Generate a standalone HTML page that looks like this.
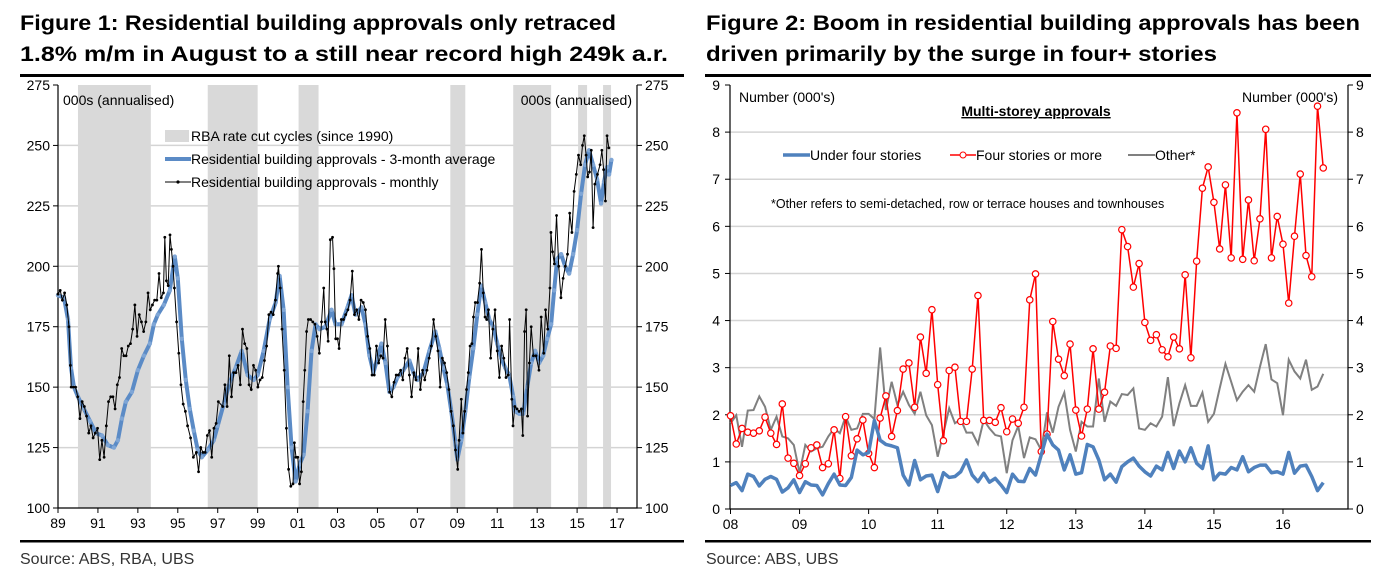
<!DOCTYPE html>
<html><head><meta charset="utf-8"><style>
html,body{margin:0;padding:0;background:#fff;}
svg{display:block;font-family:"Liberation Sans",Arial,sans-serif;}
</style></head><body>
<svg id="c" width="1383" height="582" viewBox="0 0 1383 582" xmlns="http://www.w3.org/2000/svg">
<g font-weight="bold" font-size="21" fill="#000">
<text x="20" y="30" textLength="596" lengthAdjust="spacingAndGlyphs">Figure 1: Residential building approvals only retraced</text>
<text x="20" y="61" textLength="648" lengthAdjust="spacingAndGlyphs">1.8% m/m in August to a still near record high 249k a.r.</text>
</g>
<g font-weight="bold" font-size="21" fill="#000">
<text x="706" y="30" textLength="654" lengthAdjust="spacingAndGlyphs">Figure 2: Boom in residential building approvals has been</text>
<text x="706" y="61" textLength="511" lengthAdjust="spacingAndGlyphs">driven primarily by the surge in four+ stories</text>
</g>
<rect x="20" y="74" width="664" height="3" fill="#000"/>
<rect x="705" y="74" width="666" height="3" fill="#000"/>
<rect x="20" y="540" width="664" height="2.5" fill="#000"/>
<rect x="705" y="540" width="666" height="2.5" fill="#000"/>
<text x="20" y="564" font-size="16" fill="#333">Source: ABS, RBA, UBS</text>
<text x="706" y="564" font-size="16" fill="#333">Source: ABS, UBS</text>
<g id="f1"></g>
<g id="f2"></g>
</svg>
<script>
// ---------- Figure 1 data ----------
const f1TickLabels = ["89","91","93","95","97","99","01","03","05","07","09","11","13","15","17"];
const f1TickYears = [1989,1991,1993,1995,1997,1999,2001,2003,2005,2007,2009,2011,2013,2015,2017];
const f1YTicks = [100,125,150,175,200,225,250,275];
const f1CutStart = [1990.0,1996.5,2001.05,2008.65,2011.8,2015.05,2016.3];
const f1CutEnd = [1993.65,1999.0,2002.05,2009.4,2013.7,2015.5,2016.7];
const f1MonthlyYears = [1989.00,1989.11,1989.22,1989.33,1989.44,1989.55,1989.62,1989.66,1989.77,1989.88,1989.99,1990.10,1990.21,1990.32,1990.43,1990.54,1990.65,1990.76,1990.87,1990.98,1991.09,1991.20,1991.31,1991.42,1991.53,1991.64,1991.75,1991.86,1991.97,1992.08,1992.19,1992.30,1992.41,1992.52,1992.63,1992.74,1992.85,1992.96,1993.07,1993.18,1993.29,1993.40,1993.51,1993.62,1993.73,1993.84,1993.95,1994.06,1994.17,1994.28,1994.35,1994.43,1994.52,1994.61,1994.68,1994.76,1994.83,1994.94,1995.05,1995.16,1995.27,1995.38,1995.49,1995.64,1995.78,1995.93,1996.04,1996.15,1996.26,1996.37,1996.48,1996.59,1996.70,1996.81,1996.92,1997.03,1997.25,1997.36,1997.47,1997.58,1997.69,1997.80,1997.91,1998.02,1998.13,1998.24,1998.35,1998.46,1998.57,1998.68,1998.79,1998.90,1999.01,1999.12,1999.23,1999.34,1999.45,1999.56,1999.67,1999.78,1999.89,2000.00,2000.04,2000.13,2000.22,2000.33,2000.44,2000.55,2000.66,2000.77,2000.84,2000.92,2001.01,2001.10,2001.19,2001.28,2001.36,2001.45,2001.54,2001.65,2001.76,2001.87,2001.98,2002.09,2002.20,2002.31,2002.38,2002.47,2002.53,2002.64,2002.75,2002.82,2002.91,2003.00,2003.08,2003.19,2003.30,2003.41,2003.52,2003.63,2003.74,2003.85,2003.96,2004.07,2004.18,2004.29,2004.40,2004.51,2004.62,2004.73,2004.84,2004.95,2005.06,2005.17,2005.28,2005.39,2005.50,2005.61,2005.72,2005.83,2005.94,2006.05,2006.16,2006.27,2006.38,2006.49,2006.60,2006.71,2006.82,2006.93,2007.04,2007.15,2007.26,2007.37,2007.48,2007.59,2007.70,2007.81,2007.92,2008.03,2008.14,2008.25,2008.36,2008.47,2008.58,2008.69,2008.80,2008.91,2009.02,2009.09,2009.20,2009.28,2009.37,2009.46,2009.55,2009.64,2009.73,2009.81,2009.90,2010.01,2010.12,2010.21,2010.30,2010.39,2010.47,2010.56,2010.67,2010.78,2010.89,2011.00,2011.11,2011.22,2011.33,2011.44,2011.55,2011.62,2011.73,2011.79,2011.88,2011.99,2012.10,2012.21,2012.28,2012.37,2012.45,2012.52,2012.61,2012.70,2012.81,2012.94,2013.09,2013.20,2013.33,2013.42,2013.53,2013.64,2013.69,2013.77,2013.86,2013.97,2014.08,2014.19,2014.30,2014.41,2014.52,2014.63,2014.74,2014.85,2014.96,2015.07,2015.18,2015.27,2015.36,2015.45,2015.53,2015.62,2015.71,2015.80,2015.89,2016.02,2016.15,2016.24,2016.33,2016.42,2016.50,2016.59];
const f1Monthly = [188.5,190,186,189,184,175,159,150,150,150,146,137,144,142,138,131,134,129,131,133,120,128,121,134,144,146,146,141,151,154,166,163,163,167,168,174,184,171,180,177,173,177,189,182,184,186,186,197,187,189,212,194,192,213,207,200,191,177,164,151,143,140,134,129,121,123,115,125,123,123,130,132,121,133,135,144,142,151,142,163,146,156,156,159,151,174,168,166,151,149,159,157,150,153,154,161,167,180,181,180,186,197,200,191,174,157,133,116,109,110,127,121,121,110,115,144,157,173,178,178,177,176,171,164,177,191,177,174,169,211,212,199,170,170,166,178,178,180,182,186,198,180,182,178,186,185,182,171,166,155,155,167,160,163,162,178,167,148,146,152,155,155,157,153,162,166,155,146,156,153,166,149,157,153,157,162,167,178,171,165,150,162,160,156,149,140,134,124,116,128,145,131,140,149,156,167,168,179,185,185,193,207,189,179,178,182,162,174,182,165,154,167,162,154,155,178,145,134,142,141,140,141,130,173,182,138,160,175,163,163,157,179,164,182,174,191,214,206,201,221,200,187,195,200,205,222,214,231,238,246,242,250,254,246,237,239,248,216,234,238,242,248,240,227,254,249];
const f1AvgYears = [1989.0,1989.3,1989.5,1989.65,1989.8,1990.0,1990.3,1990.6,1990.9,1991.2,1991.5,1991.8,1992.0,1992.2,1992.4,1992.7,1993.0,1993.3,1993.6,1993.8,1994.0,1994.3,1994.6,1994.85,1995.0,1995.2,1995.4,1995.6,1995.8,1996.0,1996.2,1996.5,1996.8,1997.0,1997.3,1997.6,1997.9,1998.2,1998.5,1998.8,1999.0,1999.3,1999.6,1999.9,2000.1,2000.3,2000.5,2000.7,2000.9,2001.1,2001.3,2001.5,2001.7,2001.9,2002.1,2002.4,2002.7,2002.9,2003.2,2003.5,2003.7,2003.9,2004.2,2004.4,2004.6,2004.8,2005.0,2005.2,2005.4,2005.6,2005.8,2006.0,2006.3,2006.6,2006.8,2007.0,2007.3,2007.6,2007.9,2008.1,2008.3,2008.5,2008.7,2008.9,2009.0,2009.2,2009.4,2009.6,2009.8,2010.0,2010.2,2010.4,2010.6,2010.8,2011.0,2011.2,2011.4,2011.6,2011.8,2011.9,2012.1,2012.3,2012.5,2012.7,2012.9,2013.1,2013.3,2013.5,2013.7,2013.85,2014.0,2014.2,2014.4,2014.6,2014.8,2015.0,2015.2,2015.4,2015.6,2015.8,2016.0,2016.2,2016.35,2016.5,2016.6,2016.72];
const f1Avg = [188,187,178,158,150,146,141,136,131,130,126,125,128,137,144,148,157,163,168,176,180,184,190,204,195,170,153,141,132,124,121,124,128,134,143,152,158,165,155,153,155,165,178,185,196,182,150,125,111,118,122,140,165,176,174,175,182,176,176,183,188,180,183,176,163,156,162,168,160,148,150,154,157,161,156,153,156,165,173,166,158,151,140,127,120,128,140,154,166,180,192,185,178,175,168,162,158,155,146,140,139,139,150,160,165,160,163,170,176,190,203,205,200,197,205,215,230,242,248,242,236,226,235,241,238,244];

// ---------- Figure 2 data ----------
const f2YearLabels = ["08","09","10","11","12","13","14","15","16"];
const f2YTicks = [0,1,2,3,4,5,6,7,8,9];
const f2Under = [0.50,0.56,0.39,0.74,0.69,0.49,0.63,0.69,0.63,0.36,0.45,0.62,0.35,0.58,0.51,0.50,0.30,0.54,0.74,0.51,0.50,0.67,1.25,1.15,1.20,1.88,1.46,1.37,1.34,1.30,0.72,0.51,1.03,0.62,0.70,0.72,0.37,0.77,0.67,0.69,0.79,1.04,0.72,0.58,0.76,0.57,0.65,0.51,0.35,0.74,0.59,0.58,0.86,0.72,1.15,1.59,1.36,1.25,0.83,1.15,0.74,0.77,1.37,1.32,1.04,0.62,0.74,0.57,0.90,1.00,1.08,0.91,0.79,0.70,0.91,0.83,1.20,0.86,1.23,1.00,1.30,0.97,0.86,1.34,0.62,0.76,0.74,0.88,0.83,1.11,0.79,0.88,0.93,0.93,0.77,0.79,0.74,1.20,0.76,0.91,0.93,0.69,0.39,0.56];
const f2Four = [1.98,1.38,1.71,1.63,1.61,1.66,1.95,1.61,1.37,2.23,1.08,0.97,0.71,0.96,1.30,1.36,0.88,0.96,1.68,0.65,1.96,1.13,1.49,1.89,1.18,0.88,1.93,2.40,1.54,2.09,2.97,3.10,2.16,3.65,2.88,4.23,2.64,1.45,2.94,3.01,1.86,1.86,2.97,4.53,1.88,1.88,1.84,2.15,1.64,1.91,1.82,2.16,4.44,4.99,1.22,1.59,3.98,3.18,2.83,3.50,2.10,1.55,2.12,3.40,2.12,2.48,3.46,3.41,5.93,5.57,4.71,5.21,3.96,3.58,3.70,3.38,3.23,3.65,3.40,4.97,3.21,5.26,6.81,7.26,6.51,5.52,6.88,5.33,8.41,5.30,6.56,5.27,6.16,8.06,5.33,6.21,5.62,4.37,5.79,7.11,5.38,4.93,8.55,7.24];
const f2Other = [1.82,1.99,1.32,2.09,2.10,2.39,2.17,1.68,1.96,1.54,1.50,1.36,0.77,1.36,1.22,1.29,1.32,1.54,1.71,1.61,1.96,1.68,1.71,2.02,2.02,1.91,3.43,2.10,2.70,2.21,2.49,2.21,2.02,2.49,1.99,1.78,1.11,1.61,2.14,1.82,1.90,1.62,1.62,1.38,1.89,1.71,1.57,1.54,0.76,1.46,1.76,1.08,1.52,1.48,1.25,2.05,1.62,2.17,2.47,1.68,1.22,1.85,1.75,1.75,2.77,1.85,2.28,2.19,2.44,2.42,2.56,1.71,1.68,1.82,1.75,1.96,2.80,1.76,2.24,2.63,2.19,2.19,2.47,1.85,2.02,2.56,3.08,2.70,2.31,2.49,2.63,2.49,3.02,3.50,2.75,2.67,1.99,3.17,2.92,2.77,3.17,2.53,2.60,2.87];

const NS = "http://www.w3.org/2000/svg";
function mk(parent, tag, attrs, text){
  const e = document.createElementNS(NS, tag);
  for (const k in attrs) e.setAttribute(k, attrs[k]);
  if (text !== undefined) e.textContent = text;
  parent.appendChild(e);
  return e;
}

// ===== Figure 1 =====
(function(){
  const g = document.getElementById('f1');
  const L = 58, R = 637, T = 85, B = 508;
  const x = yr => L + (yr - 1989) * (R - 1 - L) / 28.95;
  const y = v => B - (v - 100) * (B - T) / 175;
  // grid
  f1YTicks.forEach(v => {
    if (v === 100 || v === 275) return;
    const ln = mk(g, 'line', {x1:L, x2:R, y1:y(v), y2:y(v), stroke:'#d4d4d4', 'stroke-width':1.5});
    
    
  });
  // shading
  f1CutStart.forEach((s, i) => {
    const r = mk(g, 'rect', {x:x(s), y:T, width:x(f1CutEnd[i]) - x(s), height:B - T, fill:'#d9d9d9'});
    
    
  });
  // axes
  const ax = mk(g, 'path', {d:`M${L},${T}V${B}H${R}V${T}`, fill:'none', stroke:'#000', 'stroke-width':1.2});
  
  
  f1YTicks.forEach(v => {
    mk(g, 'line', {x1:L - 5, x2:L, y1:y(v), y2:y(v), stroke:'#000'});
    mk(g, 'line', {x1:R, x2:R + 5, y1:y(v), y2:y(v), stroke:'#000'});
    const t1 = mk(g, 'text', {x:L - 8, y:y(v) + 5, 'text-anchor':'end', 'font-size':14}, v);
    
    
    const t2 = mk(g, 'text', {x:R + 8, y:y(v) + 5, 'font-size':14}, v);
    
    
  });
  f1TickYears.forEach((yr, i) => {
    mk(g, 'line', {x1:x(yr), x2:x(yr), y1:B, y2:B + 5, stroke:'#000'});
    const t = mk(g, 'text', {x:x(yr), y:B + 20, 'text-anchor':'middle', 'font-size':14}, f1TickLabels[i]);
    
    
  });
  const u1 = mk(g, 'text', {x:63, y:105, 'font-size':14}, '000s (annualised)');
  
  
  const u2 = mk(g, 'text', {x:632, y:105, 'font-size':14, 'text-anchor':'end'}, '000s (annualised)');
  
  
  // avg series
  const avgPts = f1AvgYears.map((yr, i) => x(yr) + ',' + y(f1Avg[i])).join(' ');
  const pa = mk(g, 'polyline', {points:avgPts, fill:'none', stroke:'#5b8bc6', 'stroke-width':4, 'stroke-linejoin':'round'});
  
  
  f1AvgYears.forEach((yr, i) => {
    const m = mk(g, 'circle', {cx:x(yr), cy:y(f1Avg[i]), r:2.2, fill:'#7fa6d6'});
    
    
  });
  // monthly series
  const mPts = f1MonthlyYears.map((yr, i) => x(yr) + ',' + y(f1Monthly[i])).join(' ');
  const pm = mk(g, 'polyline', {points:mPts, fill:'none', stroke:'#000', 'stroke-width':1});
  
  
  f1MonthlyYears.forEach((yr, i) => {
    const m = mk(g, 'circle', {cx:x(yr), cy:y(f1Monthly[i]), r:1.4, fill:'#000'});
    
    
  });
  // legend
  const lg = mk(g, 'g', {'font-size':14});
  
  
  mk(lg, 'rect', {x:165, y:130, width:24, height:12, fill:'#d9d9d9'});
  const l1 = mk(lg, 'text', {x:191, y:141}, 'RBA rate cut cycles (since 1990)');
  
  
  mk(lg, 'line', {x1:165, x2:191, y1:159, y2:159, stroke:'#5b8bc6', 'stroke-width':4});
  const l2 = mk(lg, 'text', {x:191, y:164}, 'Residential building approvals - 3-month average');
  
  
  mk(lg, 'line', {x1:165, x2:191, y1:182, y2:182, stroke:'#000', 'stroke-width':1});
  mk(lg, 'circle', {cx:178, cy:182, r:1.6, fill:'#000'});
  const l3 = mk(lg, 'text', {x:191, y:187}, 'Residential building approvals - monthly');
  
  
})();

// ===== Figure 2 =====
(function(){
  const g = document.getElementById('f2');
  const L = 730, R = 1348, T = 85, B = 509;
  const x = i => L + 0.5 + i * 69.06 / 12;
  const y = v => B - v * (B - T) / 9;
  f2YTicks.forEach(v => {
    if (v > 0 && v < 9) {
      const ln = mk(g, 'line', {x1:L, x2:R, y1:y(v), y2:y(v), stroke:'#d4d4d4', 'stroke-width':1.5});
      
      
    }
    mk(g, 'line', {x1:L - 5, x2:L, y1:y(v), y2:y(v), stroke:'#000'});
    mk(g, 'line', {x1:R, x2:R + 5, y1:y(v), y2:y(v), stroke:'#000'});
    const t1 = mk(g, 'text', {x:L - 10, y:y(v) + 5, 'text-anchor':'end', 'font-size':14}, v);
    
    
    const t2 = mk(g, 'text', {x:R + 8, y:y(v) + 5, 'font-size':14}, v);
    
    
  });
  const ax = mk(g, 'path', {d:`M${L},${T}V${B}H${R}V${T}`, fill:'none', stroke:'#000', 'stroke-width':1.2});
  
  
  f2YearLabels.forEach((lab, k) => {
    const xx = x(k * 12);
    mk(g, 'line', {x1:xx, x2:xx, y1:B, y2:B + 5, stroke:'#000'});
    const t = mk(g, 'text', {x:xx, y:B + 20, 'text-anchor':'middle', 'font-size':14}, lab);
    
    
  });
  const u1 = mk(g, 'text', {x:739, y:102, 'font-size':14}, "Number (000's)");
  
  
  const u2 = mk(g, 'text', {x:1338, y:102, 'font-size':14, 'text-anchor':'end'}, "Number (000's)");
  
  
  const ct = mk(g, 'text', {x:1036, y:116, 'font-size':14, 'font-weight':'bold', 'text-anchor':'middle', 'text-decoration':'underline'}, 'Multi-storey approvals');
  
  
  const nt = mk(g, 'text', {x:771, y:208, 'font-size':12.5}, '*Other refers to semi-detached, row or terrace houses and townhouses');
  
  
  // series
  const pts = arr => arr.map((v, i) => x(i) + ',' + y(v)).join(' ');
  const po = mk(g, 'polyline', {points:pts(f2Other), fill:'none', stroke:'#808080', 'stroke-width':2});
  
  
  const pf = mk(g, 'polyline', {points:pts(f2Four), fill:'none', stroke:'#ff0000', 'stroke-width':1.5});
  
  
  f2Four.forEach((v, i) => {
    const c = mk(g, 'circle', {cx:x(i), cy:y(v), r:3.2, fill:'#fff', stroke:'#ff0000', 'stroke-width':1.2});
    
    
  });
  const pu = mk(g, 'polyline', {points:pts(f2Under), fill:'none', stroke:'#4f81bd', 'stroke-width':3.5, 'stroke-linejoin':'round'});
  
  
  // legend
  const lg = mk(g, 'g', {'font-size':14});
  
  
  mk(lg, 'line', {x1:783, x2:810, y1:155, y2:155, stroke:'#4f81bd', 'stroke-width':3.5});
  const a = mk(lg, 'text', {x:810, y:160}, 'Under four stories');
  
  
  mk(lg, 'line', {x1:950, x2:976, y1:155, y2:155, stroke:'#ff0000', 'stroke-width':1.5});
  mk(lg, 'circle', {cx:963, cy:155, r:3, fill:'#fff', stroke:'#ff0000'});
  const b = mk(lg, 'text', {x:976, y:160}, 'Four stories or more');
  
  
  mk(lg, 'line', {x1:1128, x2:1155, y1:155, y2:155, stroke:'#808080', 'stroke-width':2});
  const c2 = mk(lg, 'text', {x:1155, y:160}, 'Other*');
  
  
})();
</script>
</body></html>
